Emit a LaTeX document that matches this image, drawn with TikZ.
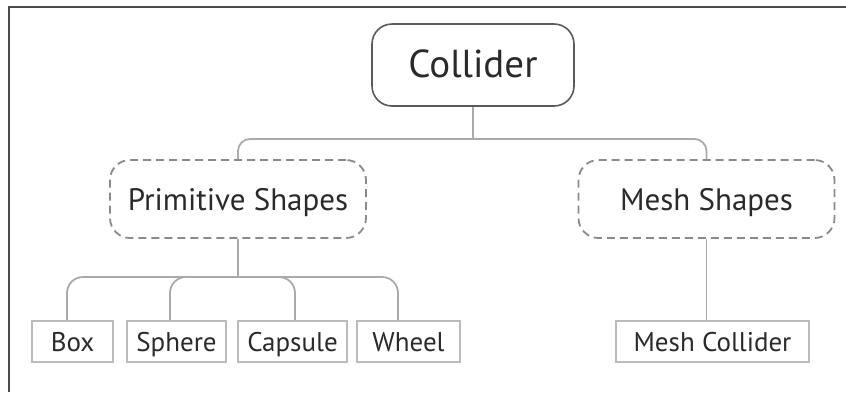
\documentclass[tikz,border=0pt]{standalone}
\usepackage{fontspec}
\setmainfont{PT Sans}
\usetikzlibrary{calc}

\definecolor{inkdark}{HTML}{2A2A2A}
\definecolor{framegray}{HTML}{4A4A4A}
\definecolor{rootgray}{HTML}{5A5A5A}
\definecolor{dashgray}{HTML}{8A8A8A}
\definecolor{linkgray}{HTML}{AAAAAA}
\definecolor{leafgray}{HTML}{BBBBBB}

\tikzset{
  rootbox/.style={draw=rootgray, line width=1.6pt, rounded corners=20pt,
    minimum width=202pt, minimum height=82pt, inner sep=0pt,
    text=inkdark, font=\fontsize{39}{41}\selectfont,
    text height=24pt, text depth=0pt},
  groupbox/.style={draw=dashgray, line width=1.8pt, dash pattern=on 8pt off 5pt,
    rounded corners=20pt, minimum width=256pt, minimum height=78pt, inner sep=0pt,
    text=inkdark, font=\fontsize{31}{33}\selectfont,
    text height=27pt, text depth=5pt},
  leafbox/.style={draw=leafgray, line width=1.8pt, minimum height=41pt, inner sep=0pt,
    text=inkdark, font=\fontsize{27}{29}\selectfont,
    text height=23pt, text depth=4pt},
  link/.style={draw=linkgray, line width=1.8pt},
}

\begin{document}
\begin{tikzpicture}[x=1pt, y=-1pt]
\useasboundingbox (0,0) rectangle (846,392);

% frame edges
\coordinate (frameTL) at (9,7);
\draw[framegray, line width=1.6pt] (frameTL |- 0,392) -- (frameTL) -- (846,7);

% root
\node[rootbox] (col) at (473,65) {Collider};

% shape groups
\node[groupbox] (psh) at (238,199) {Primitive Shapes};
\node[groupbox] (msh) at (706.5,199) {Mesh Shapes};

% leaves
\node[leafbox, minimum width=81pt]  (box) at (72.5,341.5)  {Box};
\node[leafbox, minimum width=99pt]  (sph) at (176.5,341.5) {Sphere};
\node[leafbox, minimum width=109pt] (cap) at (292.5,341.5) {Capsule};
\node[leafbox, minimum width=103pt] (whl) at (408.5,341.5) {Wheel};
\node[leafbox, minimum width=193pt] (mcol) at (712.5,341.5) {Mesh Collider};

% root to groups
\coordinate (j1) at (col.south |- 0,139);
\draw[link] (col.south) -- (j1);
\draw[link, rounded corners=12pt] (j1) -| (psh.north);
\draw[link, rounded corners=12pt] (j1) -| (msh.north);

% primitive shapes to leaves
\coordinate (j2) at (psh.south |- 0,277);
\draw[link] (psh.south) -- (j2);
\draw[link, rounded corners=16pt] ([xshift=-5.5pt]box.north) |- (j2);
\draw[link, rounded corners=16pt] ([xshift=-6.5pt]sph.north) |- (j2);
\draw[link, rounded corners=16pt] ([xshift=2.5pt]cap.north) |- (j2);
\draw[link, rounded corners=16pt] ([xshift=-10.5pt]whl.north) |- (j2);

% mesh shapes to mesh collider
\draw[link] (msh.south) -- (msh.south |- mcol.north);
\end{tikzpicture}
\end{document}
